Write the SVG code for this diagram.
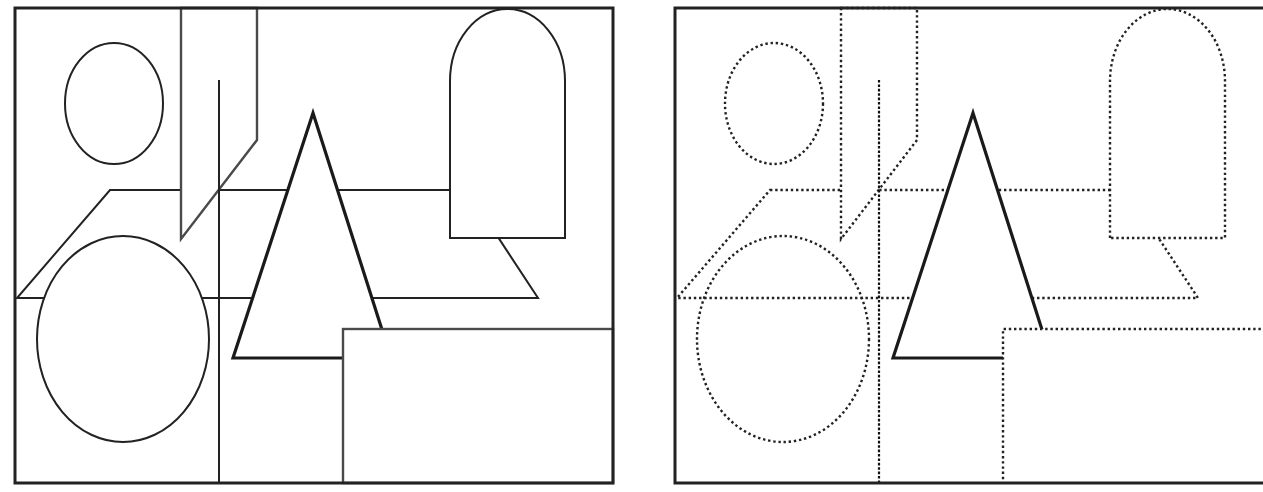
<svg xmlns="http://www.w3.org/2000/svg" width="1263" height="492" viewBox="0 0 1263 492">
<style>
.bg{fill:#fff}
.s{fill:none;stroke:#222;stroke-width:2}
.sw{fill:#fff;stroke:#222;stroke-width:2}
.g{fill:#fff;stroke:#4a4a4a;stroke-width:2.4}
.tri{fill:#fff;stroke:#1a1a1a;stroke-width:3.2;stroke-linejoin:miter}
.frame{fill:none;stroke:#222;stroke-width:3}
.d{fill:none;stroke:#222;stroke-width:2.4;stroke-dasharray:2.4 2.8}
.dw{fill:#fff;stroke:#222;stroke-width:2.4;stroke-dasharray:2.4 2.8}
.dv{fill:none;stroke:#111;stroke-width:2.2;stroke-dasharray:2.6 1.8}
</style>
<rect class="bg" x="0" y="0" width="1263" height="492"/>

<g id="left-panel">
  <polygon id="L-parallelogram" class="s" points="110,190 467,190 538,298 17,298"/>
  <ellipse id="L-big-ellipse" class="sw" cx="123" cy="339" rx="86" ry="103"/>
  <polygon id="L-tower" class="g" points="181,8 257,8 257,140 181,239"/>
  <line id="L-pole" class="s" x1="219" y1="80" x2="219" y2="483"/>
  <polygon id="L-triangle" class="tri" points="313,113 233,358 391,358"/>
  <rect id="L-rect" class="g" x="343" y="329" width="270" height="154"/>
  <path id="L-arch" class="sw" d="M450,238 L450,81 A57.5,72 0 0 1 565,81 L565,238 Z"/>
  <ellipse id="L-small-ellipse" class="s" cx="114" cy="103.5" rx="49" ry="60.5"/>
  <rect id="L-frame" class="frame" x="15" y="8" width="598" height="475"/>
</g>

<g id="right-panel">
  <polygon id="R-parallelogram" class="d" points="770,190 1127,190 1198,298 677,298"/>
  <ellipse id="R-big-ellipse" class="d" cx="783" cy="339" rx="86" ry="103"/>
  <polygon id="R-tower" class="dw" points="841,8 917,8 917,140 841,239"/>
  <line id="R-pole" class="dv" x1="879" y1="80" x2="879" y2="483"/>
  <polygon id="R-triangle" class="tri" points="973,113 893,358 1051,358"/>
  <path id="R-rect" class="dw" d="M1266,329 L1003,329 L1003,483"/>
  <path id="R-arch" class="dw" d="M1110,238 L1110,81 A57.5,72 0 0 1 1225,81 L1225,238 Z"/>
  <ellipse id="R-small-ellipse" class="d" cx="774" cy="103.5" rx="49" ry="60.5"/>
  <path id="R-frame" class="frame" d="M1266,8 L675,8 L675,483 L1266,483"/>
</g>
</svg>
